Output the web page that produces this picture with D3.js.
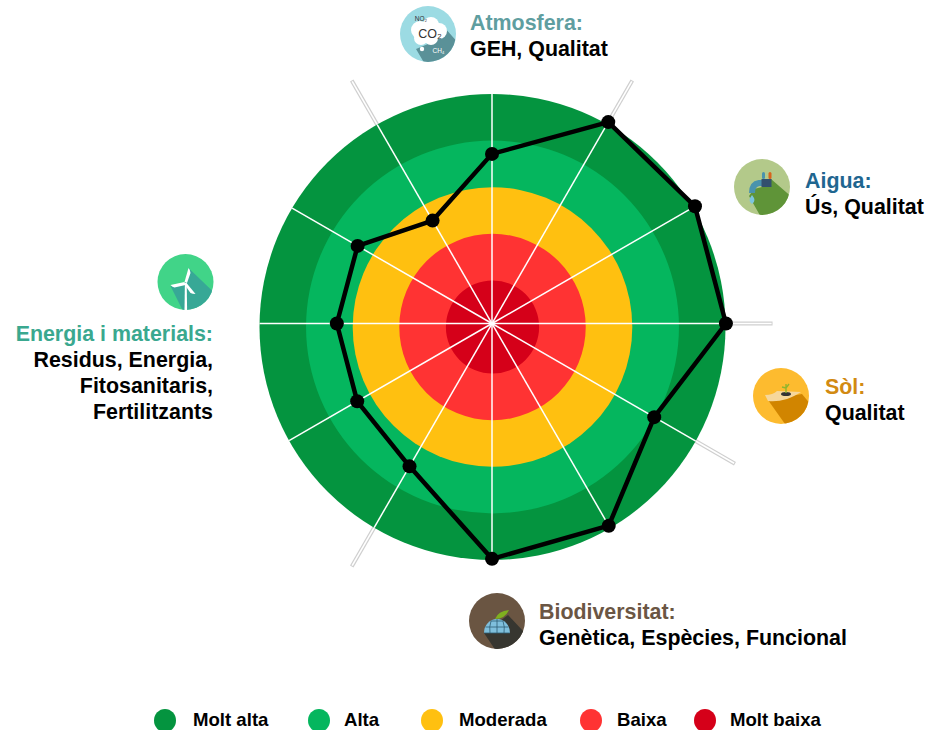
<!DOCTYPE html>
<html><head><meta charset="utf-8">
<style>html,body{margin:0;padding:0;background:#fff;overflow:hidden}svg{display:block}text{font-family:"Liberation Sans",Arial,sans-serif;font-weight:bold}</style>
<script src="https://cdnjs.cloudflare.com/ajax/libs/d3/7.8.5/d3.min.js"></script>
</head><body><svg id="c" width="940" height="730"></svg>
<script>
// Data
const axisAngles = [0,30,60,90,120,150,180,210,240,270,300,330];
const values = [3.64,4.99,5.03,5.02,4.02,5.01,5.05,3.54,3.34,3.33,3.33,2.55];
const extendedAxes = [30,90,120,210,330];
const levels = ["Molt baixa","Baixa","Moderada","Alta","Molt alta"];
const levelValues = [1,2,3,4,5];
const levelColors = ["#d50019","#ff3333","#ffc010","#05b65e","#04943f"];
const legendOrder = ["Molt alta","Alta","Moderada","Baixa","Molt baixa"];
const groupTitles = ["Atmosfera:","Aigua:","Sòl:","Biodiversitat:","Energia i materials:"];
const groupLines = [["GEH, Qualitat"],["Ús, Qualitat"],["Qualitat"],["Genètica, Espècies, Funcional"],["Residus, Energia,","Fitosanitaris,","Fertilitzants"]];
const groupColors = ["#5f9ea0","#1f6690","#d28a12","#6b5644","#3aa88f"];

const svg = d3.select("#c");
const cx = 492.5, diskY = 327, spokeX = 492, spokeY = 323.5, R = 233;
const r = d3.scaleLinear().domain([0,5]).range([0,R]);
const a = d3.scaleLinear().domain([0,360]).range([0,2*Math.PI]);
const pt = (deg,v)=>d3.pointRadial(a(deg),r(v));
const g = svg.append("g").attr("transform",`translate(${spokeX},${spokeY})`);
const disk = svg.append("g").attr("transform",`translate(${cx},${diskY})`);
const spokesG = svg.append("g").attr("transform",`translate(${spokeX},${spokeY})`);
svg.append("clipPath").attr("id","diskClip").append("circle").attr("cx",cx-spokeX).attr("cy",diskY-spokeY).attr("r",R);

// gray extensions under disk
g.selectAll("line.ext").data(extendedAxes).join("line").attr("class","ext")
  .attr("x1",0).attr("y1",0)
  .attr("x2",d=>pt(d,6.02)[0]).attr("y2",d=>pt(d,6.02)[1])
  .attr("stroke","#cfcfcf").attr("stroke-width",4);
g.selectAll("line.ext2").data(extendedAxes).join("line").attr("class","ext2")
  .attr("x1",0).attr("y1",0)
  .attr("x2",d=>pt(d,6.0)[0]).attr("y2",d=>pt(d,6.0)[1])
  .attr("stroke","#fff").attr("stroke-width",1.6);

// rings
const arc = d3.arc().innerRadius(0).startAngle(0).endAngle(2*Math.PI);
disk.selectAll("path.ring").data(levelValues.map((v,i)=>({v,c:levelColors[i]})).reverse()).join("path")
  .attr("d",d=>arc({outerRadius:r(d.v)})).attr("fill",d=>d.c);

// spokes
spokesG.append("g").attr("clip-path","url(#diskClip)").selectAll("line.spoke").data(axisAngles).join("line")
  .attr("x1",0).attr("y1",0)
  .attr("x2",d=>pt(d,5.2)[0]).attr("y2",d=>pt(d,5.2)[1])
  .attr("stroke","#fff").attr("stroke-width",1.5);

// polygon
const radial = d3.lineRadial().angle((d,i)=>a(axisAngles[i])).radius(d=>r(d)).curve(d3.curveLinearClosed);
spokesG.append("path").attr("d",radial(values)).attr("fill","none").attr("stroke","#000").attr("stroke-width",4.5).attr("stroke-linejoin","round");
spokesG.selectAll("circle.pt").data(values).join("circle")
  .attr("cx",(d,i)=>pt(axisAngles[i],d)[0]).attr("cy",(d,i)=>pt(axisAngles[i],d)[1])
  .attr("r",7).attr("fill","#000");

// icons
const iconR = 28;
function icon(x,y,bg,shadow,shadowPath,draw){
  const ig = svg.append("g").attr("transform",`translate(${x},${y})`);
  const id = "clip"+Math.round(x);
  ig.append("clipPath").attr("id",id).append("circle").attr("r",iconR);
  ig.append("circle").attr("r",iconR).attr("fill",bg);
  ig.append("path").attr("clip-path",`url(#${id})`).attr("d",shadowPath).attr("fill",shadow);
  draw(ig);
}
// Atmosfera
icon(428,34,"#9cdbe3","#5a9198","M16,-7 L32,11 L32,32 L-2,32 L-12,15 L0,10 Z",ig=>{
  ig.selectAll("circle.c").data([[-8,-4,9],[3,-9,8],[11,-3,8],[3,4,7],[-7,4,7]]).join("circle")
    .attr("cx",d=>d[0]).attr("cy",d=>d[1]).attr("r",d=>d[2]).attr("fill","#fff");
  ig.append("circle").attr("cx",-6).attr("cy",15).attr("r",2.2).attr("fill","#fff");
  ig.append("text").attr("x",2).attr("y",4).attr("text-anchor","middle").attr("font-size",12.5).attr("fill","#333").style("font-weight","normal").text("CO₂");
  ig.append("text").attr("x",-7).attr("y",-13).attr("text-anchor","middle").attr("font-size",6.5).attr("fill","#333").style("font-weight","normal").text("NO₂");
  ig.append("text").attr("x",10.5).attr("y",19).attr("text-anchor","middle").attr("font-size",6.5).attr("fill","#fff").style("font-weight","normal").text("CH₄");
});
// Aigua
icon(762,187,"#b3c98a","#5f9438","M9,-8 L32,12 L32,32 L0,32 L-13,9 L-8,2 L0,0 Z",ig=>{
  ig.append("path").attr("fill","none").attr("stroke","#4a93ad").attr("stroke-width",6).attr("d","M1,-4 L-3,-4 Q-10,-3 -10,6");
  ig.append("rect").attr("x",-0.5).attr("y",-8).attr("width",10).attr("height",8).attr("fill","#33506e");
  ig.append("path").attr("fill","#7cc5df").attr("d","M-10,8 q-5,6 0,9 q5,-3 0,-9z");
  ig.append("rect").attr("x",0).attr("y",-15).attr("width",3).attr("height",7).attr("rx",1.5).attr("fill","#4a93ad");
  ig.append("rect").attr("x",6.5).attr("y",-15).attr("width",3).attr("height",7).attr("rx",1.5).attr("fill","#d8641c");
});
// Sòl
icon(781,396,"#fdbb2f","#d18500","M-13,4 L4,28 L30,28 L30,9 L21,-2 Z",ig=>{
  ig.append("path").attr("fill","#f6d79b").attr("d","M-16,-1 Q-8,-1 -4,-5 L20,-4 Q12,1 6,3 Q-4,6 -13,5Z");
  ig.append("ellipse").attr("cx",5).attr("cy",-2).attr("rx",5).attr("ry",2).attr("fill","#333");
  ig.append("path").attr("stroke","#8fb52f").attr("stroke-width",1.4).attr("fill","none").attr("d","M5,-3 V-12 M5,-8 L1,-9 M5,-8 L8,-12");
});
// Biodiversitat
icon(497,621,"#6a5542","#373630","M-13,12 L-1,30 L30,30 L30,14 L11,-6 Z",ig=>{
  ig.append("path").attr("fill","#7fbfdc").attr("d","M-13,12 A13,14 0 0 1 13,12Z");
  ig.append("path").attr("fill","none").attr("stroke","#2f5d73").attr("stroke-width",0.8).attr("d","M-13,12 H13 M-11.5,6 H11.5 M-6,0 H6 M0,-2 V12 M-6,0 Q-8,6 -7,12 M6,0 Q8,6 7,12");
  ig.append("path").attr("fill","#7fb01f").attr("d","M-2,-2 Q1,-10 12,-11 Q8,-2 -2,-2Z");
});
// Energia
icon(185.5,282,"#41d488","#37a896","M3,-14 L32,14 L32,32 L-1,32 L-15,4 L-1,2 Z",ig=>{
  ig.append("path").attr("fill","#fff").attr("d","M-0.6,1 L1.2,1 L1.6,28 L-1,28Z");
  ig.append("path").attr("fill","#fff").attr("d","M-1,0 L3,-14 Q5,-12 5,-9 L1.5,1Z");
  ig.append("path").attr("fill","#fff").attr("d","M-1,0 L-15,3 Q-13,5 -11,5.5 L0,3Z");
  ig.append("path").attr("fill","#fff").attr("d","M1,1 L10,12 Q7,12 5,11 L-1,2.5Z");
});

// group labels
const labelLayout = [
  {x:470,y:30,anchor:"start"},{x:805,y:188,anchor:"start"},{x:825,y:394,anchor:"start"},
  {x:539,y:619,anchor:"start"},{x:213,y:341,anchor:"end"}];
const lh = 26;
groupTitles.forEach((t,i)=>{
  const L = labelLayout[i];
  svg.append("text").attr("x",L.x).attr("y",L.y).attr("text-anchor",L.anchor).attr("font-size",21.4).attr("fill",groupColors[i]).text(t);
  groupLines[i].forEach((s,j)=>{
    svg.append("text").attr("x",L.x).attr("y",L.y+lh*(j+1)).attr("text-anchor",L.anchor).attr("font-size",21.4).attr("fill","#000").text(s);
  });
});

// legend
const legendX = d3.scaleOrdinal().domain(legendOrder).range([165,319,432,591,705]);
const legendTextX = d3.scaleOrdinal().domain(legendOrder).range([193,344,459,617,730]);
const legendColor = d3.scaleOrdinal().domain(levels).range(levelColors);
const lg = svg.selectAll("g.leg").data(legendOrder).join("g");
lg.append("ellipse").attr("cx",d=>legendX(d)).attr("cy",720.5).attr("rx",11).attr("ry",11.5).attr("fill",d=>legendColor(d));
lg.append("text").attr("x",d=>legendTextX(d)).attr("y",726).attr("font-size",18.6).attr("fill","#000").text(d=>d);
</script></body></html>
